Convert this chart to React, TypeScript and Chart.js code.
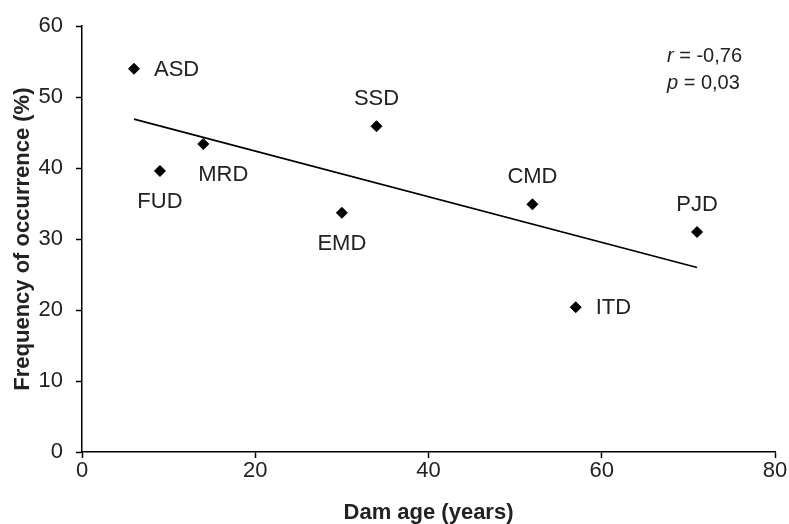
import React, { useEffect, useRef } from 'react';
import { Chart, registerables } from 'chart.js';

Chart.register(...registerables);

// ---- data ----
const siteLabels = ['ASD', 'FUD', 'MRD', 'EMD', 'SSD', 'CMD', 'ITD', 'PJD'];
const damAge = [6, 9, 14, 30, 34, 52, 57, 71];
const frequency = [54, 39.6, 43.4, 33.7, 45.9, 34.9, 20.4, 31];
const labelPlacement = ['right', 'below', 'below-right', 'below', 'above', 'above', 'right', 'above'];
const trendAge = [6, 71];
const trendFrequency = [46.9, 26.0];
const xMin = 0, xMax = 80, xStep = 20;
const yMin = 0, yMax = 60, yStep = 10;
const statSymbols = ['r', 'p'];
const statValues = [' = -0,76', ' = 0,03'];
const xTitle = 'Dam age (years)';
const yTitle = 'Frequency of occurrence (%)';

const FONT = "'Liberation Sans', Arial, sans-serif";
const TEXT = '#222222';

const pointLabelPlugin = {
  id: 'pointLabels',
  afterDatasetsDraw(chart: any) {
    const { ctx, scales } = chart;
    const xs = scales.x, ys = scales.y;
    ctx.save();
    ctx.fillStyle = TEXT;
    ctx.font = `22px ${FONT}`;
    ctx.textBaseline = 'middle';
    siteLabels.forEach((lab, i) => {
      const px = xs.getPixelForValue(damAge[i]);
      const py = ys.getPixelForValue(frequency[i]);
      const pl = labelPlacement[i];
      if (pl === 'right') {
        ctx.textAlign = 'left';
        ctx.fillText(lab, px + 20, py + 1);
      } else if (pl === 'below') {
        ctx.textAlign = 'center';
        ctx.fillText(lab, px, py + 31);
      } else if (pl === 'below-right') {
        ctx.textAlign = 'center';
        ctx.fillText(lab, px + 20, py + 31);
      } else {
        ctx.textAlign = 'center';
        ctx.fillText(lab, px, py - 27);
      }
    });
    // statistics annotation
    const ca = chart.chartArea;
    ctx.textAlign = 'left';
    statSymbols.forEach((sym, i) => {
      const x0 = ca.right - 108;
      const y0 = ca.top + 30 + i * 27;
      ctx.font = `italic 20px ${FONT}`;
      ctx.fillText(sym, x0, y0);
      const w = ctx.measureText(sym).width;
      ctx.font = `20px ${FONT}`;
      ctx.fillText(statValues[i], x0 + w, y0);
    });
    ctx.restore();
  },
};

export default function App() {
  const ref = useRef<HTMLCanvasElement>(null);
  useEffect(() => {
    document.body.style.margin = '0';
    const canvas = ref.current!;
    const chart = new Chart(canvas, {
      type: 'scatter',
      data: {
        datasets: [
          {
            type: 'line',
            data: trendAge.map((x, i) => ({ x, y: trendFrequency[i] })),
            borderColor: '#000',
            borderWidth: 1.7,
            pointRadius: 0,
            fill: false,
            order: 2,
          } as any,
          {
            data: damAge.map((x, i) => ({ x, y: frequency[i] })),
            pointStyle: 'rectRot',
            pointRadius: 5.5,
            backgroundColor: '#000',
            borderColor: '#000',
            borderWidth: 1,
            order: 1,
          },
        ],
      },
      options: {
        animation: false,
        responsive: false,
        devicePixelRatio: 1,
        layout: { padding: { top: 20, right: 14, left: 0, bottom: 0 } },
        plugins: { legend: { display: false }, tooltip: { enabled: false } },
        scales: {
          x: {
            type: 'linear',
            min: xMin,
            max: xMax,
            ticks: { stepSize: xStep, font: { family: FONT, size: 22 }, color: TEXT, padding: 0 },
            grid: { drawOnChartArea: false, drawTicks: true, tickLength: 6, tickColor: '#000', tickWidth: 1.5 },
            border: { display: true, color: '#000', width: 1.5 },
            title: {
              display: true,
              text: xTitle,
              font: { family: FONT, size: 22, weight: 'bold', lineHeight: 1 },
              color: TEXT,
              padding: 0,
            },
            afterFit: (s: any) => { s.height = 72; },
          },
          y: {
            type: 'linear',
            min: yMin,
            max: yMax,
            ticks: { stepSize: yStep, font: { family: FONT, size: 22 }, color: TEXT, padding: 13 },
            grid: { drawOnChartArea: false, drawTicks: true, tickLength: 6, tickColor: '#000', tickWidth: 1.5 },
            border: { display: true, color: '#000', width: 1.5 },
            title: {
              display: true,
              text: yTitle,
              font: { family: FONT, size: 22, weight: 'bold', lineHeight: 1 },
              color: TEXT,
              padding: { top: 12, bottom: 0 },
            },
            afterFit: (s: any) => { s.width = 82; },
          },
        },
      },
      plugins: [pointLabelPlugin],
    });
    return () => chart.destroy();
  }, []);
  return (
    <div style={{ width: 789, height: 524 }}>
      <canvas ref={ref} width={789} height={524} style={{ display: 'block' }} />
    </div>
  );
}
